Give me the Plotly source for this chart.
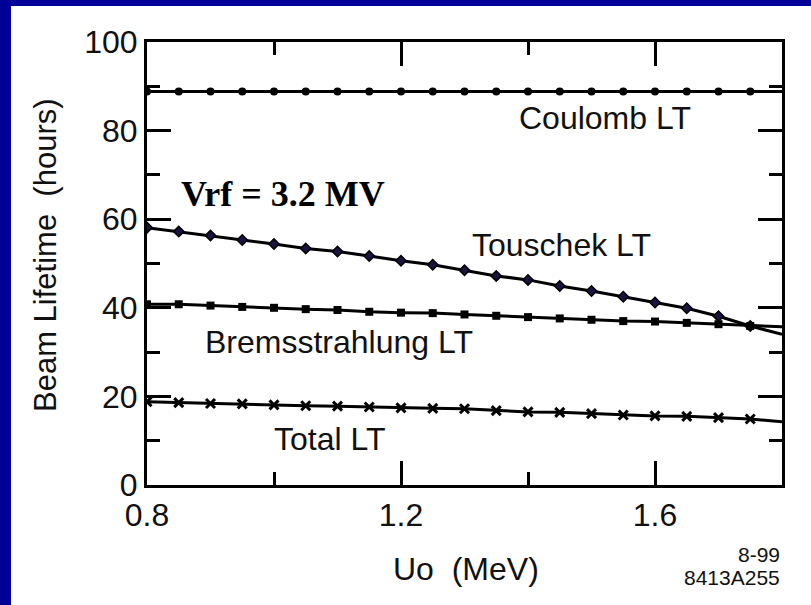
import plotly.graph_objects as go

# Synchrotron radiation energy loss per turn (MeV); fitted lines run to the axis edge
uo_line = [0.80, 0.85, 0.90, 0.95, 1.00, 1.05, 1.10, 1.15, 1.20, 1.25, 1.30,
           1.35, 1.40, 1.45, 1.50, 1.55, 1.60, 1.65, 1.70, 1.75, 1.80]
n_pts = 20  # computed points stop at 1.75 MeV

coulomb = [88.8] * 21
touschek = [58.1, 57.2, 56.3, 55.3, 54.4, 53.4, 52.7, 51.7, 50.6, 49.7, 48.5,
            47.2, 46.3, 44.9, 43.8, 42.5, 41.2, 39.9, 38.1, 35.9, 34.0]
brems = [40.8, 40.8, 40.5, 40.2, 40.0, 39.7, 39.5, 39.1, 38.9, 38.8, 38.5,
         38.2, 37.9, 37.6, 37.3, 37.0, 36.9, 36.6, 36.3, 35.9, 35.7]
total = [18.8, 18.6, 18.4, 18.3, 18.1, 17.9, 17.8, 17.6, 17.4, 17.3, 17.2,
         16.8, 16.5, 16.4, 16.1, 15.8, 15.6, 15.5, 15.2, 14.9, 14.3]

SANS = "Liberation Sans, Arial, Helvetica, sans-serif"
BLUE = "#000099"
PLOT_W, PLOT_H = 635, 443

series = [
    (coulomb, dict(symbol="circle", size=8, color="black")),
    (touschek, dict(symbol="diamond", size=8, color="#1c1240",
                    line=dict(color="black", width=1.5))),
    (brems, dict(symbol="square", size=8, color="black")),
    (total, dict(symbol="x-thin", size=9, color="black",
                 line=dict(color="black", width=3))),
]

fig = go.Figure()
for vals, mk in series:
    fig.add_trace(go.Scatter(x=uo_line, y=vals, mode="lines",
                             line=dict(color="black", width=3),
                             hoverinfo="skip", showlegend=False))
    fig.add_trace(go.Scatter(x=uo_line[:n_pts], y=vals[:n_pts], mode="markers",
                             marker=mk, showlegend=False))

# Curve labels
labels = [
    ("Coulomb LT", 1.521, 82.8),
    ("Touschek LT", 1.452, 54.2),
    ("Bremsstrahlung LT", 1.102, 32.3),
    ("Total LT", 1.088, 10.4),
]
for txt, lx, ly in labels:
    fig.add_annotation(x=lx, y=ly, xref="x", yref="y", text=txt, showarrow=False,
                       xanchor="center", yanchor="middle",
                       font=dict(family=SANS, size=32, color="#111"))

fig.add_annotation(x=1.014, y=65.7, xref="x", yref="y", text="<b>Vrf = 3.2 MV</b>",
                   showarrow=False, xanchor="center", yanchor="middle",
                   font=dict(family="Liberation Serif, Times New Roman, serif",
                             size=36, color="black"))

# Figure id stamp in the lower right
fig.add_annotation(x=1.0, y=(485 - 554) / PLOT_H, xref="paper", yref="paper",
                   xanchor="right", yanchor="middle", text="8-99", showarrow=False,
                   font=dict(family=SANS, size=21, color="#111"))
fig.add_annotation(x=1.0, y=(485 - 577) / PLOT_H, xref="paper", yref="paper",
                   xanchor="right", yanchor="middle", text="8413A255", showarrow=False,
                   font=dict(family=SANS, size=21, color="#111"))

# Axis titles
fig.add_annotation(x=(466 - 147) / PLOT_W, y=(485 - 569) / PLOT_H, xref="paper",
                   yref="paper", xanchor="center", yanchor="middle",
                   text="Uo  (MeV)", showarrow=False,
                   font=dict(family=SANS, size=32, color="#111"))
fig.add_annotation(x=(46 - 147) / PLOT_W, y=(485 - 255) / PLOT_H, xref="paper",
                   yref="paper", xanchor="center", yanchor="middle",
                   text="Beam Lifetime  (hours)", textangle=-90, showarrow=False,
                   font=dict(family=SANS, size=31, color="#111"))

# Blue frame bands along the left and top edges of the page
fig.add_shape(type="rect", xref="paper", yref="paper", layer="below",
              x0=(-20 - 147) / PLOT_W, x1=(11 - 147) / PLOT_W,
              y0=(485 - 620) / PLOT_H, y1=(485 + 20) / PLOT_H,
              fillcolor=BLUE, line=dict(width=0))
fig.add_shape(type="rect", xref="paper", yref="paper", layer="below",
              x0=(-20 - 147) / PLOT_W, x1=(830 - 147) / PLOT_W,
              y0=(485 - 6) / PLOT_H, y1=(485 + 20) / PLOT_H,
              fillcolor=BLUE, line=dict(width=0))

axis_common = dict(
    showgrid=False, zeroline=False, showline=True, linecolor="#000000", linewidth=3,
    mirror="allticks", ticks="inside", ticklen=24, tickwidth=2.5, tickcolor="#000000",
    tickfont=dict(family=SANS, size=32, color="#111"),
)

fig.update_xaxes(range=[0.8, 1.8], tickmode="linear", tick0=0.8, dtick=0.4,
                 minor=dict(ticks="inside", dtick=0.2, ticklen=13, tickwidth=2.5,
                            tickcolor="#000000"),
                 **axis_common)
fig.update_yaxes(range=[0, 100], tickmode="linear", tick0=0, dtick=20,
                 minor=dict(ticks="inside", dtick=10, ticklen=13, tickwidth=2.5,
                            tickcolor="#000000"),
                 **axis_common)

fig.update_layout(
    width=811, height=605,
    margin=dict(l=147, r=29, t=42, b=120),
    paper_bgcolor="white", plot_bgcolor="white",
    showlegend=False,
)

fig.write_html("out.html")
